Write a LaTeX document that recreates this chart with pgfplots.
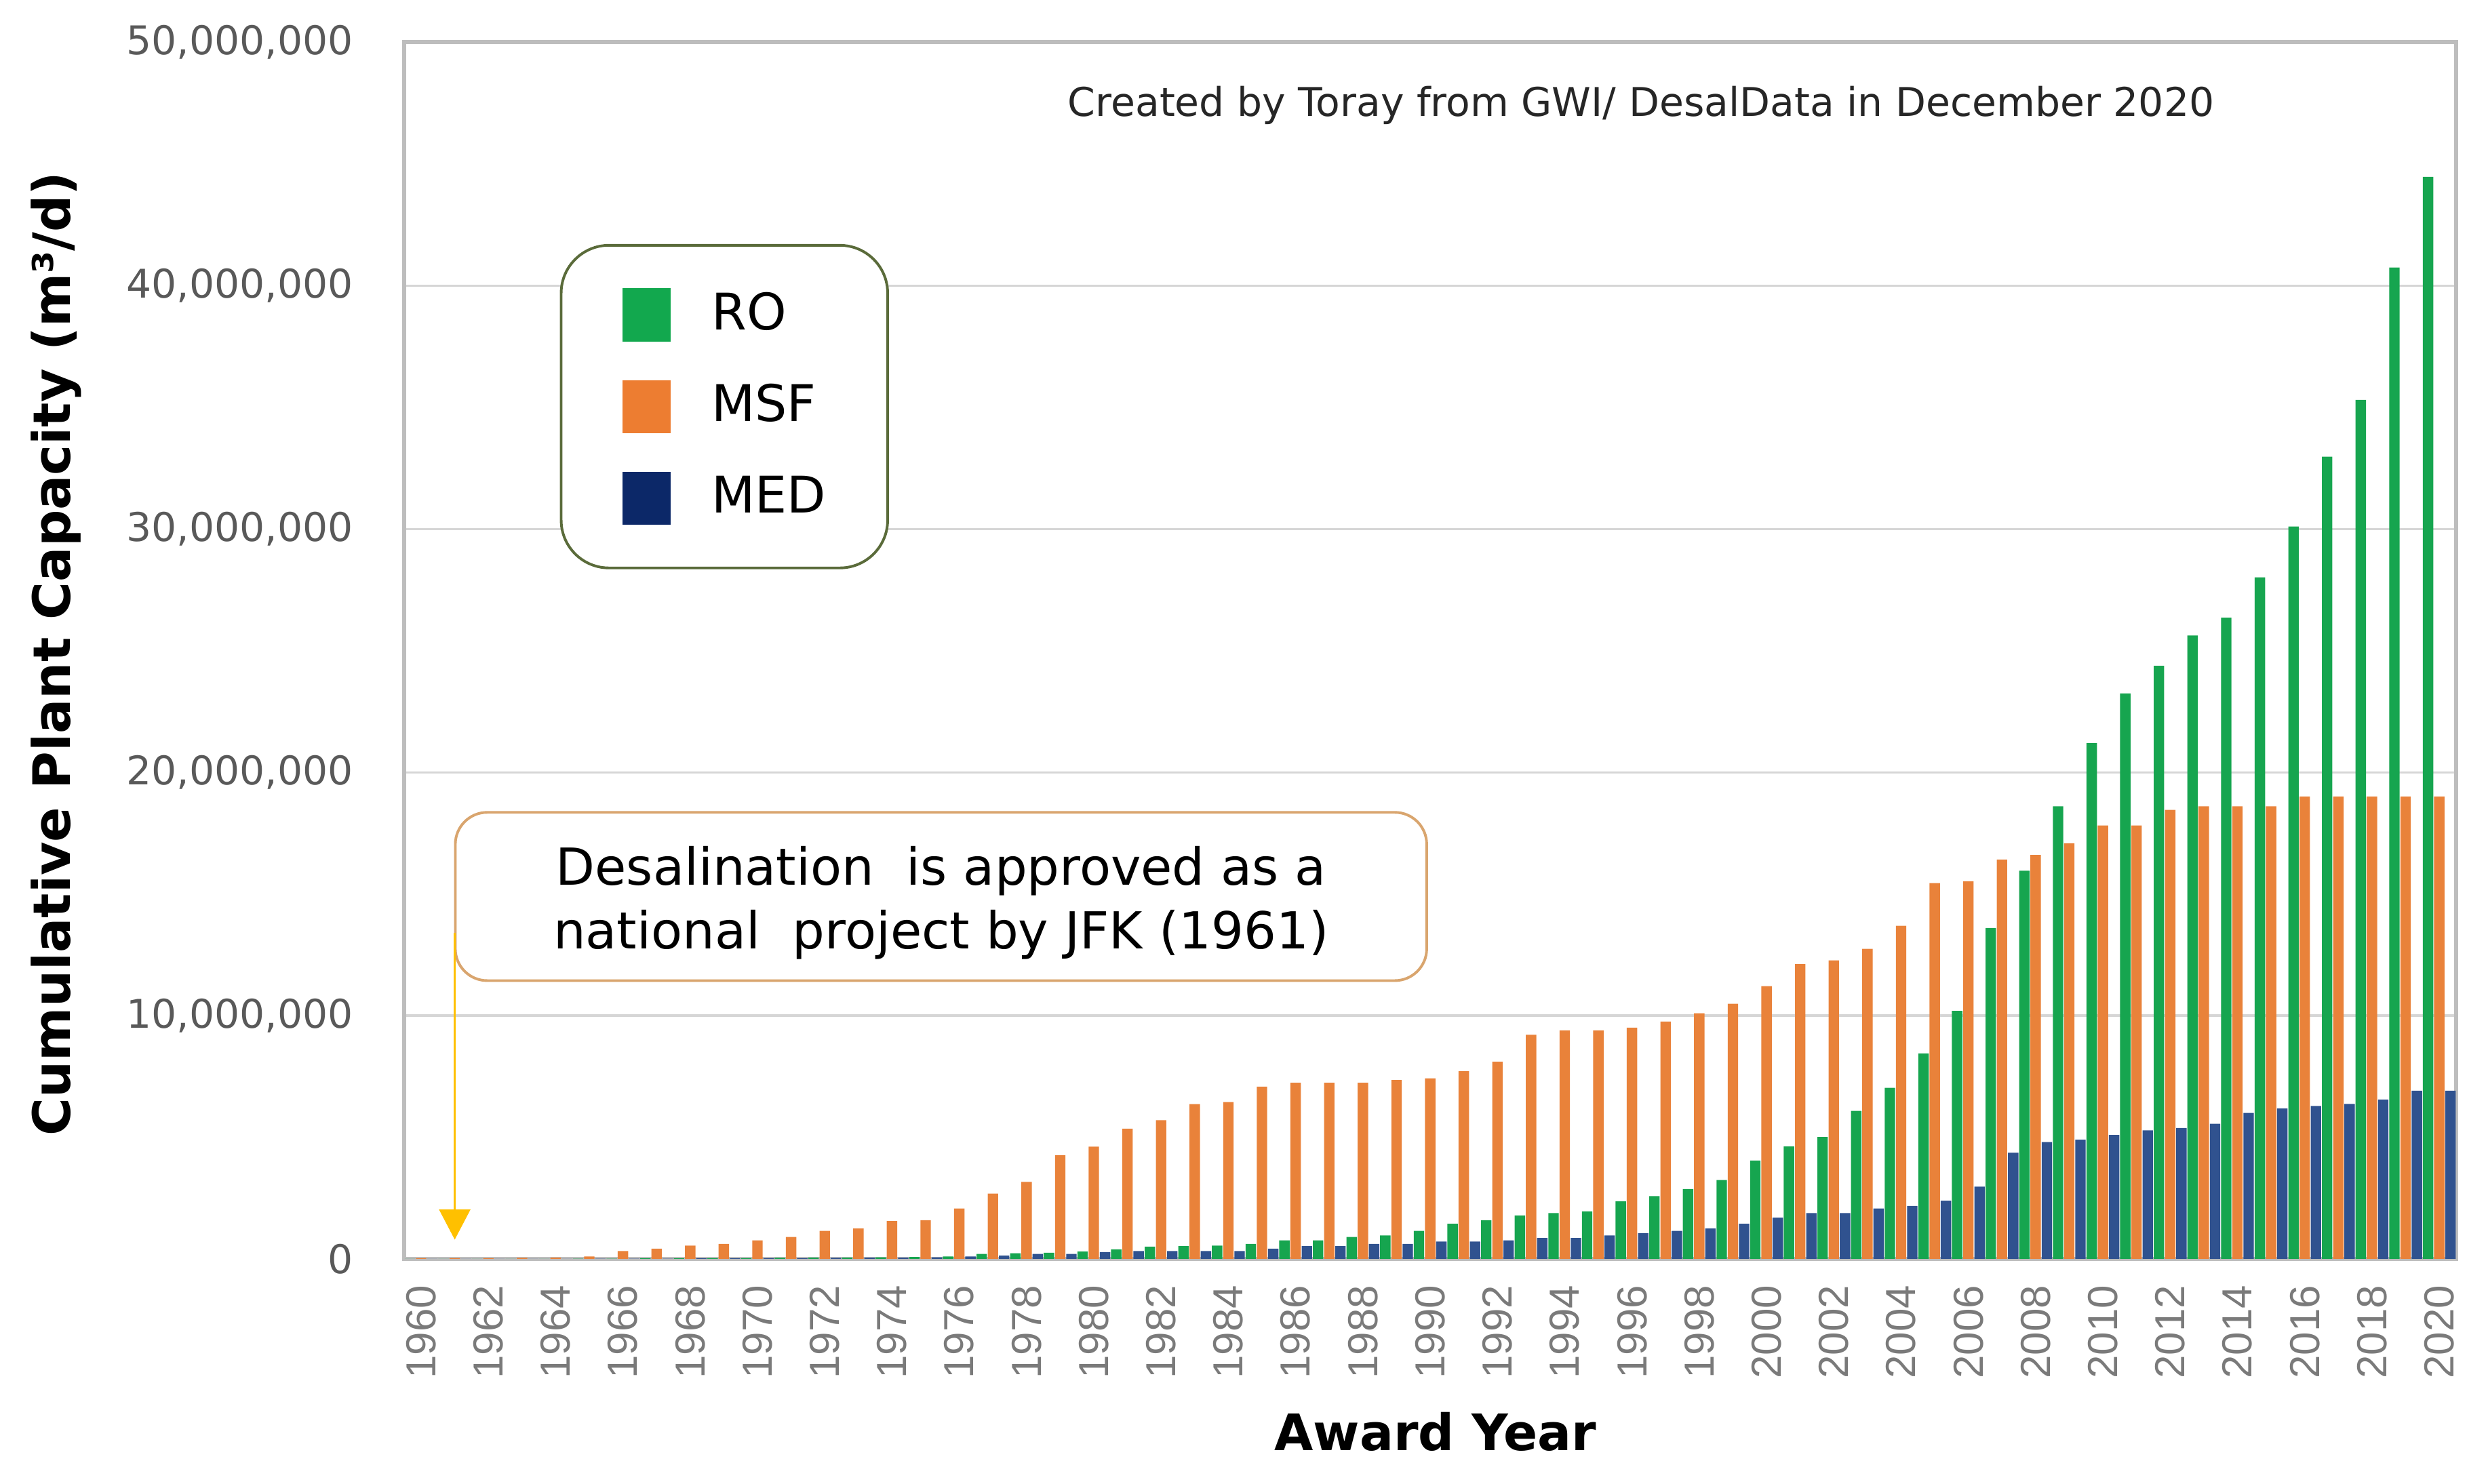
\documentclass[border=0pt]{standalone}
\usepackage{fontspec}
\setmainfont{DejaVu Sans}
\newfontfamily\arialfont{Liberation Sans}
\usepackage{pgfplots}
\usepackage{pgfplotstable}
\pgfplotsset{compat=1.18}
\usetikzlibrary{arrows.meta}

\definecolor{rocol}{HTML}{16A54F}
\definecolor{msfcol}{HTML}{E9823A}
\definecolor{medcol}{HTML}{30528F}
\definecolor{legro}{HTML}{12A84E}
\definecolor{legmsf}{HTML}{ED7D31}
\definecolor{legmed}{HTML}{0C2868}
\definecolor{gridc}{HTML}{D6D6D6}
\definecolor{boxc}{HTML}{BDBDBD}
\definecolor{legborder}{HTML}{5A6B3A}
\definecolor{annoborder}{HTML}{D9A56E}
\definecolor{arrowc}{HTML}{FFC000}
\definecolor{ticky}{HTML}{595959}
\definecolor{tickx}{HTML}{7A7A7A}

% cumulative capacity, million m3/d
\pgfplotstableread{
year ro msf med
1960 0 0.03 0
1961 0 0.03 0
1962 0 0.03 0
1963 0 0.04 0
1964 0 0.05 0
1965 0.01 0.10 0.01
1966 0.01 0.32 0.01
1967 0.02 0.42 0.01
1968 0.02 0.54 0.02
1969 0.03 0.61 0.02
1970 0.03 0.76 0.03
1971 0.04 0.90 0.03
1972 0.05 1.15 0.04
1973 0.05 1.25 0.05
1974 0.06 1.55 0.05
1975 0.08 1.59 0.06
1976 0.10 2.07 0.10
1977 0.20 2.68 0.13
1978 0.23 3.16 0.20
1979 0.25 4.26 0.20
1980 0.30 4.61 0.28
1981 0.39 5.35 0.32
1982 0.50 5.70 0.32
1983 0.52 6.36 0.32
1984 0.54 6.44 0.32
1985 0.61 7.08 0.42
1986 0.76 7.24 0.52
1987 0.76 7.24 0.52
1988 0.90 7.24 0.61
1989 0.96 7.35 0.61
1990 1.15 7.42 0.71
1991 1.44 7.71 0.71
1992 1.59 8.10 0.76
1993 1.78 9.21 0.86
1994 1.88 9.39 0.86
1995 1.95 9.39 0.96
1996 2.36 9.50 1.05
1997 2.58 9.75 1.15
1998 2.87 10.09 1.25
1999 3.24 10.48 1.44
2000 4.04 11.21 1.69
2001 4.62 12.11 1.88
2002 5.01 12.27 1.88
2003 6.08 12.74 2.07
2004 7.03 13.69 2.17
2005 8.44 15.44 2.39
2006 10.19 15.51 2.97
2007 13.60 16.41 4.36
2008 15.95 16.60 4.80
2009 18.60 17.08 4.90
2010 21.20 17.81 5.09
2011 23.24 17.81 5.28
2012 24.37 18.45 5.38
2013 25.62 18.60 5.55
2014 26.35 18.60 6.00
2015 28.01 18.60 6.18
2016 30.10 19.00 6.28
2017 32.97 19.00 6.37
2018 35.30 19.00 6.55
2019 40.74 19.00 6.91
2020 44.47 19.00 6.91
}\capdata

\begin{document}
\begin{tikzpicture}
\begin{axis}[
    at={(0,0)}, anchor=south west,
    scale only axis,
    width=385.95pt, height=228.9pt,
    xmin=1959.5, xmax=2020.5,
    ymin=0, ymax=50,
    enlargelimits=false,
    ybar, bar width=0.31,
    /pgf/number format/assume math mode=true,
    xtick={1960,1962,...,2020},
    xticklabel={\pgfmathprintnumber[1000 sep={}]{\tick}},
    ytick={0,10,20,30,40,50},
    yticklabels={0,{10,000,000},{20,000,000},{30,000,000},{40,000,000},{50,000,000}},
    tick style={draw=none},
    ymajorgrids,
    major grid style={draw=gridc, line width=0.4pt},
    axis line style={draw=boxc, line width=0.8pt},
    y tick label style={font=\fontsize{7.44}{8}\selectfont, text=ticky,
        anchor=east, inner ysep=0pt, inner xsep=9.45pt},
    x tick label style={font=\arialfont\fontsize{7.9}{8}\selectfont, text=tickx,
        rotate=90, anchor=east, inner ysep=0pt, inner xsep=0.5pt},
    ylabel={Cumulative Plant Capacity (m³/d)},
    ylabel style={at={(axis description cs:-0.1698,0.4974)}, anchor=center,
        font=\bfseries\fontsize{9.7}{11}\selectfont},
    xlabel={Award Year},
    xlabel style={at={(axis description cs:0.5025,-0.1422)}, anchor=center,
        font=\bfseries\fontsize{9.45}{11}\selectfont},
    legend image code/.code={\fill[#1, sharp corners] (0pt,-5pt) rectangle (9pt,5pt);},
    legend cell align=left,
    legend style={at={(axis description cs:0.0758,0.8342)}, anchor=north west,
        draw=legborder, line width=0.5pt, rounded corners=9pt, fill=white,
        inner xsep=11.6pt, inner ysep=8.1pt,
        nodes={inner xsep=0pt, inner ysep=0pt},
        row sep=7.25pt, column sep=7.7pt,
        font=\fontsize{9.5}{11}\selectfont},
]
\addplot[forget plot, fill=rocol, draw=none, bar shift=-0.3333] table[x=year, y=ro] {\capdata};
\addplot[forget plot, fill=msfcol, draw=none, bar shift=0] table[x=year, y=msf] {\capdata};
\addplot[forget plot, fill=medcol, draw=none, bar shift=0.3333] table[x=year, y=med] {\capdata};

\addlegendimage{fill=legro, draw=none}
\addlegendentry{RO}
\addlegendimage{fill=legmsf, draw=none}
\addlegendentry{MSF}
\addlegendimage{fill=legmed, draw=none}
\addlegendentry{MED}

% annotation box and arrow
\draw[annoborder, line width=0.5pt, rounded corners=6pt, fill=white]
    (rel axis cs:0.02487,0.2287) rectangle (rel axis cs:0.4983,0.3670);
\node[anchor=base, inner sep=0pt, font=\fontsize{9.6}{12}\selectfont]
    at (rel axis cs:0.2616,0.3073) {Desalination\ \ is approved as a};
\node[anchor=base, inner sep=0pt, font=\fontsize{9.6}{12}\selectfont]
    at (rel axis cs:0.2616,0.2549) {national\ \ project by JFK (1961)};
\draw[arrowc, line width=0.45pt, -{Triangle[width=5.85pt,length=5.7pt]}]
    (axis cs:1961,13.4) -- (axis cs:1961,0.79);

\node[anchor=base, inner sep=0pt, font=\fontsize{7.45}{9}\selectfont, text=black!85]
    at (rel axis cs:0.6028,0.939) {Created by Toray from GWI/ DesalData in December 2020};
\end{axis}
\pgfresetboundingbox
\path[use as bounding box] (-76.05pt,-42.24pt) rectangle (391.95pt,236.85pt);
\end{tikzpicture}
\end{document}
